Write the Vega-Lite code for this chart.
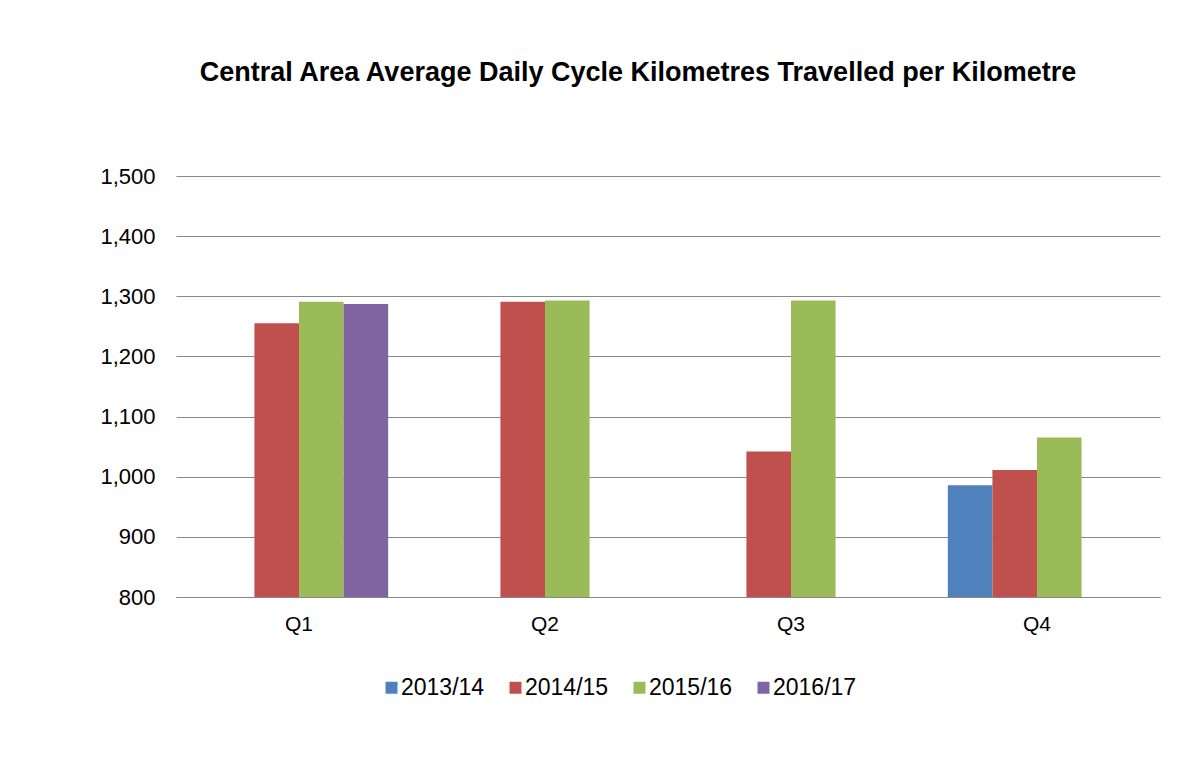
{
  "$schema": "https://vega.github.io/schema/vega-lite/v6.json",
  "autosize": "none",
  "width": 984,
  "height": 421,
  "padding": {"left": 176, "top": 176, "right": 35, "bottom": 184},
  "background": "white",
  "title": {
    "text": "Central Area Average Daily Cycle Kilometres Travelled per Kilometre",
    "font": "Liberation Sans",
    "fontSize": 27,
    "fontWeight": "bold",
    "color": "black",
    "anchor": "middle",
    "frame": "group",
    "dx": -30,
    "offset": 78
  },
  "data": {
    "values": [
      {"quarter": "Q1", "year": "2014/15", "value": 1255},
      {"quarter": "Q1", "year": "2015/16", "value": 1291},
      {"quarter": "Q1", "year": "2016/17", "value": 1287},
      {"quarter": "Q2", "year": "2014/15", "value": 1291},
      {"quarter": "Q2", "year": "2015/16", "value": 1293},
      {"quarter": "Q3", "year": "2014/15", "value": 1042},
      {"quarter": "Q3", "year": "2015/16", "value": 1293},
      {"quarter": "Q4", "year": "2013/14", "value": 986},
      {"quarter": "Q4", "year": "2014/15", "value": 1011},
      {"quarter": "Q4", "year": "2015/16", "value": 1065}
    ]
  },
  "mark": {"type": "bar", "clip": true},
  "encoding": {
    "x": {
      "field": "quarter",
      "type": "nominal",
      "scale": {"domain": ["Q1", "Q2", "Q3", "Q4"], "paddingInner": 0.275, "paddingOuter": 0.1375},
      "axis": {
        "title": null,
        "labelAngle": 0,
        "labelFont": "Liberation Sans",
        "labelFontSize": 21,
        "labelColor": "black",
        "labelPadding": 16,
        "ticks": false,
        "domainColor": "#888888",
        "domainWidth": 1,
        "grid": false
      }
    },
    "xOffset": {
      "field": "year",
      "type": "nominal",
      "scale": {"domain": ["2013/14", "2014/15", "2015/16", "2016/17"], "paddingInner": 0, "paddingOuter": 0}
    },
    "y": {
      "field": "value",
      "type": "quantitative",
      "scale": {"domain": [800, 1500], "zero": false, "nice": false},
      "axis": {
        "title": null,
        "values": [800, 900, 1000, 1100, 1200, 1300, 1400, 1500],
        "format": ",.0f",
        "labelFont": "Liberation Sans",
        "labelFontSize": 22,
        "labelColor": "black",
        "labelPadding": 21,
        "ticks": false,
        "domain": false,
        "grid": true,
        "gridColor": "#888888",
        "gridWidth": 1,
        "gridOpacity": 1
      }
    },
    "y2": {"datum": 800},
    "color": {
      "field": "year",
      "type": "nominal",
      "scale": {
        "domain": ["2013/14", "2014/15", "2015/16", "2016/17"],
        "range": ["#4F81BD", "#C0504D", "#9BBB59", "#8064A2"]
      },
      "legend": {
        "title": null,
        "orient": "none",
        "direction": "horizontal",
        "legendX": 204,
        "legendY": 500,
        "symbolType": "square",
        "symbolSize": 144,
        "symbolStrokeWidth": 0,
        "labelFont": "Liberation Sans",
        "labelFontSize": 23,
        "labelColor": "black",
        "labelOffset": -2,
        "columnPadding": 19
      }
    }
  },
  "config": {
    "view": {"stroke": null}
  }
}
